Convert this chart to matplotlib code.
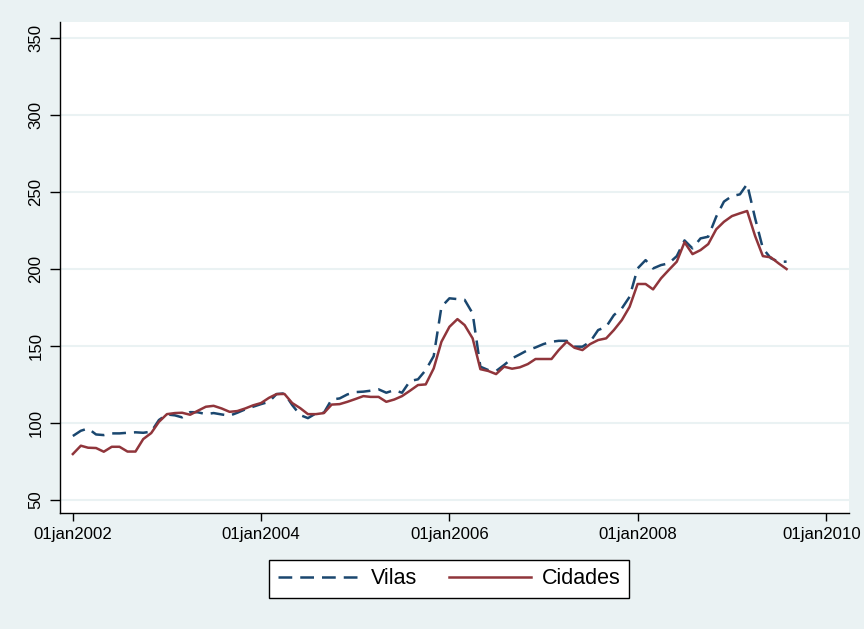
import matplotlib
matplotlib.use("Agg")
import matplotlib.pyplot as plt
import matplotlib.transforms as mtransforms
import pandas as pd

plt.rcParams['font.family'] = ['Liberation Sans', 'DejaVu Sans']

# monthly index values, jan2002 .. aug2009
months = pd.date_range('2002-01-01', periods=92, freq='MS')

vilas = [91.6, 95.0, 96.5, 92.6, 92.2, 93.3, 93.3, 93.7, 94.0, 93.7,
         94.4, 102.0, 105.6, 105.0, 103.7, 107.1, 107.0, 105.8, 106.5, 105.6,
         104.8, 106.7, 108.9, 110.6, 112.3, 113.8, 118.8, 119.3, 111.7, 105.2,
         103.2, 106.3, 106.7, 115.3, 116.0, 118.6, 120.1, 120.4, 121.0, 121.9,
         119.7, 121.4, 119.7, 127.3, 128.4, 134.4, 143.5, 175.5, 181.0, 180.5,
         180.0, 171.2, 136.6, 134.4, 133.8, 137.7, 142.0, 144.6, 147.4, 149.1,
         151.3, 152.8, 153.4, 153.4, 149.6, 149.6, 152.8, 160.4, 162.5, 170.1,
         174.5, 182.0, 200.4, 205.8, 200.4, 202.6, 203.7, 208.4, 218.6, 213.4,
         219.9, 221.0, 234.0, 243.8, 247.4, 248.5, 255.2, 232.9, 213.4, 207.0,
         204.8, 204.8]

cidades = [79.9, 85.3, 84.0, 83.8, 81.4, 84.6, 84.6, 81.5, 81.5, 89.6,
           93.5, 100.8, 105.8, 106.5, 106.7, 105.4, 108.0, 110.6, 111.2, 109.5,
           107.3, 107.8, 109.5, 111.5, 113.0, 116.4, 118.8, 118.9, 113.0, 109.7,
           105.8, 105.8, 106.5, 112.0, 112.3, 113.8, 115.6, 117.5, 117.0, 117.0,
           113.8, 115.3, 117.5, 121.0, 124.7, 125.1, 135.5, 152.8, 162.5, 167.5,
           163.6, 155.0, 135.0, 133.8, 131.8, 136.6, 135.3, 136.2, 138.3, 141.6,
           141.6, 141.6, 147.4, 152.8, 148.9, 147.4, 151.3, 153.9, 155.0, 160.4,
           166.9, 175.5, 190.3, 190.3, 186.8, 194.0, 199.4, 204.8, 217.4, 209.7,
           212.3, 216.2, 225.8, 230.7, 234.4, 236.2, 237.7, 221.4, 208.4, 207.6,
           203.7, 200.0]

yticks = [50, 100, 150, 200, 250, 300, 350]
xtick_years = [2002, 2004, 2006, 2008, 2010]

bg = '#eaf2f3'
navy = '#1a476f'
maroon = '#90353b'

fig = plt.figure(figsize=(8.64, 6.29), dpi=100, facecolor=bg)
ax = fig.add_axes([0.0694, 0.1844, 0.9132, 0.7806])
ax.set_facecolor('white')

ax.plot(months, vilas, color=navy, lw=1.8, ls=(0, (5.5, 3.2)), label='Vilas')
ax.plot(months, cidades, color=maroon, lw=1.8, label='Cidades')

ax.set_ylim(41.6, 360.4)
ax.set_yticks(yticks)
ax.set_yticklabels([str(v) for v in yticks], rotation=90, va='center')
ax.yaxis.grid(True, color=bg, lw=1.5)
ax.set_axisbelow(True)

xt = [pd.Timestamp(f'{y}-01-01') for y in xtick_years]
ax.set_xticks(xt)
ax.set_xticklabels([f'01jan{y}' for y in xtick_years])
ax.set_xlim(pd.Timestamp('2002-01-01') - pd.Timedelta(days=50),
            pd.Timestamp('2010-01-01') + pd.Timedelta(days=89))

for s in ['top', 'right']:
    ax.spines[s].set_visible(False)
for s in ['left', 'bottom']:
    ax.spines[s].set_color('black')
    ax.spines[s].set_linewidth(1.0)
ax.tick_params(axis='both', labelsize=12.1, color='black', width=1.0)
ax.tick_params(axis='y', length=7, pad=5)
ax.tick_params(axis='x', length=6, pad=4)

# last label sits right at the figure edge; nudge it in a little
last = ax.get_xticklabels()[-1]
last.set_transform(last.get_transform() +
                   mtransforms.ScaledTranslation(-4 / 100, 0, fig.dpi_scale_trans))

leg = fig.legend(loc='center', bbox_to_anchor=(0.52, 0.080), ncol=2,
                 fontsize=15.5, frameon=True, fancybox=False, edgecolor='black',
                 facecolor='white', framealpha=1.0,
                 handlelength=3.8, columnspacing=1.5, borderpad=0.4,
                 handletextpad=0.5)
leg.get_frame().set_linewidth(1.0)

fig.savefig('out.png', dpi=100, facecolor=bg)
